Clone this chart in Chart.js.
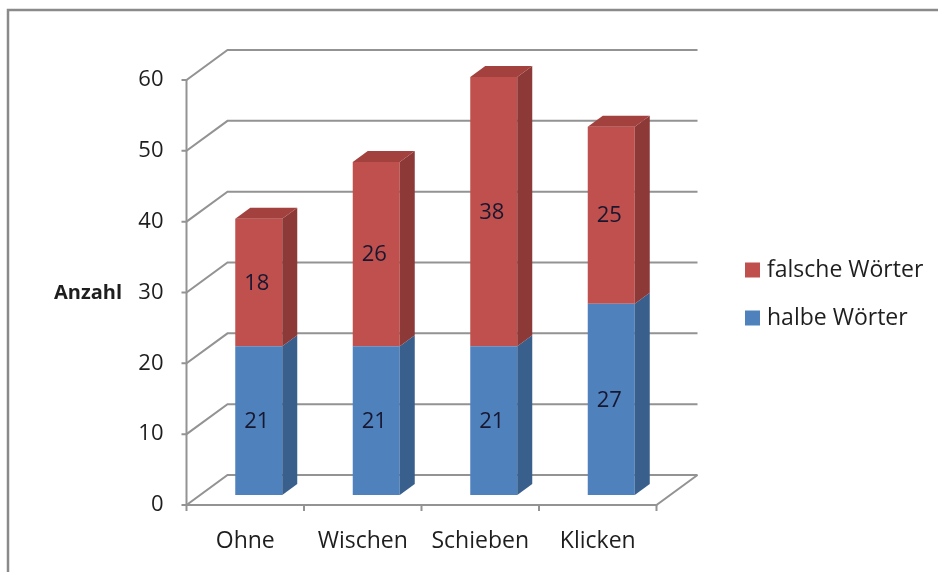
<!DOCTYPE html>
<html>
<head>
<meta charset="utf-8">
<script src="https://cdn.jsdelivr.net/npm/chart.js"></script>
<style>
  html, body { margin: 0; padding: 0; background: #ffffff; }
  #wrap { width: 938px; height: 572px; position: relative; }
</style>
</head>
<body>
<div id="wrap"><canvas id="c" width="938" height="572"></canvas></div>
<script>
// Chart data
const categories = ['Ohne', 'Wischen', 'Schieben', 'Klicken'];
const halbeWoerter = [21, 21, 21, 27];
const falscheWoerter = [18, 26, 38, 25];
const yTicks = [0, 10, 20, 30, 40, 50, 60];
const seriesNames = ['halbe Wörter', 'falsche Wörter'];
const axisTitle = 'Anzahl';

// Colours: front face, side face, top face
const blueFaces = ['#4f81bd', '#395f8d', '#43709f'];
const redFaces = ['#c0504d', '#8c3937', '#a2413e'];

// Depth of the 3D box relative to the bar front plane
const FRONT = { dx: -13.5, dy: 10 };   // front (axis) plane
const BACK = { dx: 27.5, dy: -20 };    // back wall
const BAR_DEPTH = { dx: 15, dy: 11 };

const LINE = '#939393';
const TEXT = '#1e1e1e';
const FONT = '"Open Sans", "Noto Sans", sans-serif';

const box3d = {
  id: 'box3d',
  beforeDatasetsDraw(chart) {
    const ctx = chart.ctx;
    const ys = chart.scales.y, xs = chart.scales.x;
    const area = chart.chartArea;
    ctx.save();

    // outer frame
    ctx.strokeStyle = '#8a8a8a';
    ctx.lineWidth = 2.5;
    ctx.strokeRect(8, 10, 960, 620);

    ctx.strokeStyle = LINE;
    ctx.lineWidth = 2;
    const fx = area.left + FRONT.dx;
    const bx = area.left + BACK.dx;
    const bxr = area.right + BACK.dx;
    const fxr = area.right + FRONT.dx;

    // wall gridlines with their connectors to the front axis
    yTicks.forEach(v => {
      const py = ys.getPixelForValue(v);
      ctx.beginPath();
      ctx.moveTo(fx - 5, py + FRONT.dy);
      ctx.lineTo(fx, py + FRONT.dy);
      ctx.lineTo(bx, py + BACK.dy);
      ctx.lineTo(bxr, py + BACK.dy);
      ctx.stroke();
    });

    // front value axis
    const y0 = ys.getPixelForValue(0);
    const yTop = ys.getPixelForValue(yTicks[yTicks.length - 1]);
    ctx.beginPath();
    ctx.moveTo(fx, yTop + FRONT.dy);
    ctx.lineTo(fx, y0 + FRONT.dy);
    ctx.stroke();

    // floor front edge and right edge
    ctx.beginPath();
    ctx.moveTo(fx, y0 + FRONT.dy);
    ctx.lineTo(fxr, y0 + FRONT.dy);
    ctx.lineTo(bxr, y0 + BACK.dy);
    ctx.stroke();

    // category tick marks
    const step = (area.right - area.left) / categories.length;
    for (let i = 0; i <= categories.length; i++) {
      const tx = fx + i * step;
      ctx.beginPath();
      ctx.moveTo(tx, y0 + FRONT.dy);
      ctx.lineTo(tx, y0 + FRONT.dy + 6);
      ctx.stroke();
    }

    // value tick labels
    ctx.fillStyle = TEXT;
    ctx.font = '22px ' + FONT;
    ctx.textAlign = 'right';
    ctx.textBaseline = 'middle';
    yTicks.forEach(v => {
      ctx.fillText(String(v), fx - 23, ys.getPixelForValue(v) + FRONT.dy);
    });

    // category labels
    ctx.font = '23px ' + FONT;
    ctx.textAlign = 'center';
    categories.forEach((c, i) => {
      ctx.fillText(c, xs.getPixelForValue(i) + FRONT.dx, y0 + FRONT.dy + 36);
    });

    // axis title
    ctx.font = 'bold 20px ' + FONT;
    ctx.textAlign = 'right';
    ctx.fillText(axisTitle, 122, ys.getPixelForValue(30) + FRONT.dy + 1);

    // legend (top series first)
    ctx.font = '23px ' + FONT;
    ctx.textAlign = 'left';
    const legendItems = chart.data.datasets.slice().reverse();
    legendItems.forEach((ds, i) => {
      const cy = 270 + i * 48;
      ctx.fillStyle = ds.backgroundColor;
      ctx.fillRect(745, cy - 7.5, 15, 15);
      ctx.fillStyle = TEXT;
      ctx.fillText(ds.label, 767, cy);
    });
    ctx.restore();
  },
  afterDatasetsDraw(chart) {
    const ctx = chart.ctx;
    const n = chart.data.datasets.length;
    ctx.save();
    chart.data.datasets.forEach((ds, di) => {
      const meta = chart.getDatasetMeta(di);
      const faces = ds.faces;
      meta.data.forEach((bar, i) => {
        const p = bar.getProps(['x', 'y', 'base', 'width'], true);
        const xl = p.x - p.width / 2, xr = p.x + p.width / 2;
        // side face
        ctx.fillStyle = faces[1];
        ctx.beginPath();
        ctx.moveTo(xr, p.y);
        ctx.lineTo(xr + BAR_DEPTH.dx, p.y - BAR_DEPTH.dy);
        ctx.lineTo(xr + BAR_DEPTH.dx, p.base - BAR_DEPTH.dy);
        ctx.lineTo(xr, p.base);
        ctx.closePath();
        ctx.fill();
        // top face on the uppermost segment
        if (di === n - 1) {
          ctx.fillStyle = faces[2];
          ctx.beginPath();
          ctx.moveTo(xl, p.y);
          ctx.lineTo(xl + BAR_DEPTH.dx, p.y - BAR_DEPTH.dy);
          ctx.lineTo(xr + BAR_DEPTH.dx, p.y - BAR_DEPTH.dy);
          ctx.lineTo(xr, p.y);
          ctx.closePath();
          ctx.fill();
        }
      });
    });
    // value labels in the middle of each segment
    ctx.fillStyle = '#171730';
    ctx.font = '22px ' + FONT;
    ctx.textAlign = 'center';
    ctx.textBaseline = 'middle';
    chart.data.datasets.forEach((ds, di) => {
      const meta = chart.getDatasetMeta(di);
      meta.data.forEach((bar, i) => {
        const p = bar.getProps(['x', 'y', 'base'], true);
        ctx.fillText(String(ds.data[i]), p.x - 2, (p.y + p.base) / 2 + 1);
      });
    });
    ctx.restore();
  }
};

new Chart(document.getElementById('c'), {
  type: 'bar',
  data: {
    labels: categories,
    datasets: [
      { label: seriesNames[0], data: halbeWoerter, backgroundColor: blueFaces[0], faces: blueFaces },
      { label: seriesNames[1], data: falscheWoerter, backgroundColor: redFaces[0], faces: redFaces }
    ]
  },
  options: {
    responsive: false,
    animation: false,
    layout: { padding: { left: 200, top: 70, right: 268, bottom: 77 } },
    datasets: { bar: { categoryPercentage: 1, barPercentage: 0.4, borderWidth: 0 } },
    scales: {
      x: { stacked: true, display: false },
      y: { stacked: true, display: false, min: 0, max: 60, ticks: { stepSize: 10 } }
    },
    plugins: { legend: { display: false }, tooltip: { enabled: false } }
  },
  plugins: [box3d]
});
</script>
</body>
</html>
